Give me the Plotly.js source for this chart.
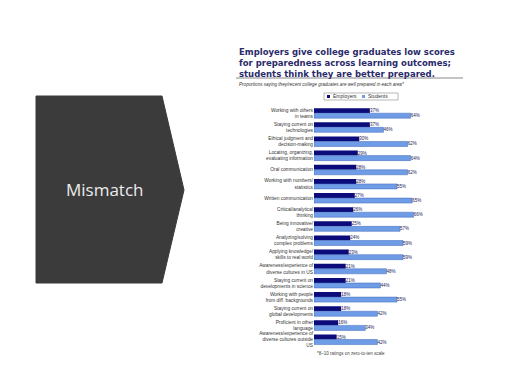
<!DOCTYPE html>
<html>
<head>
<meta charset="utf-8">
<script src="https://cdn.plot.ly/plotly-3.0.1.min.js"></script>
<style>html,body{margin:0;padding:0;background:#fff;}#chart{width:513px;height:389px;}</style>
</head>
<body>
<div id="chart"></div>
<script>
var categories = [
  "Working with others<br>in teams",
  "Staying current on<br>technologies",
  "Ethical judgment and<br>decision-making",
  "Locating, organizing,<br>evaluating information",
  "Oral communication",
  "Working with numbers/<br>statistics",
  "Written communication",
  "Critical/analytical<br>thinking",
  "Being innovative/<br>creative",
  "Analyzing/solving<br>complex problems",
  "Applying knowledge/<br>skills to real world",
  "Awareness/experience of<br>diverse cultures in US",
  "Staying current on<br>developments in science",
  "Working with people<br>from diff. backgrounds",
  "Staying current on<br>global developments",
  "Proficient in other<br>language",
  "Awareness/experience of<br>diverse cultures outside<br>US"
];
var employers = [37, 37, 30, 29, 28, 28, 27, 26, 25, 24, 23, 21, 21, 18, 18, 16, 15];
var students  = [64, 46, 62, 64, 62, 55, 65, 66, 57, 59, 59, 48, 44, 55, 42, 34, 42];
var seriesNames = ["Employers", "Students"];
var seriesColors = ["#0b0b7a", "#6f9ce6"];

var W = 513, H = 389;
function px(x){ return x / W; }
function py(y){ return 1 - y / H; }

var traces = [
  {
    type: "bar", orientation: "h", name: seriesNames[0],
    y: categories, x: employers,
    marker: {color: seriesColors[0]},
    text: employers.map(function(v){return v + "%";}),
    textposition: "outside", cliponaxis: false,
    textfont: {size: 4.5, color: "#1a1a5a", family: "Arial"}
  },
  {
    type: "bar", orientation: "h", name: seriesNames[1],
    y: categories, x: students,
    marker: {color: seriesColors[1], line: {color: "#4169b8", width: 0.5}},
    text: students.map(function(v){return v + "%";}),
    textposition: "outside", cliponaxis: false,
    textfont: {size: 4.5, color: "#1a1a5a", family: "Arial"}
  }
];

var chevron = "M" + px(36) + "," + py(96) + " L" + px(162) + "," + py(96) +
  " L" + px(184) + "," + py(190) + " L" + px(162) + "," + py(283) +
  " L" + px(36) + "," + py(283) + " Z";

function rect(x0, y0, x1, y1, fill, line){
  return {type: "rect", xref: "paper", yref: "paper",
    x0: px(x0), x1: px(x1), y0: py(y1), y1: py(y0),
    fillcolor: fill, line: line || {width: 0}};
}

var layout = {
  width: W, height: H,
  margin: {l: 0, r: 0, t: 0, b: 0},
  paper_bgcolor: "#ffffff", plot_bgcolor: "rgba(0,0,0,0)",
  barmode: "group", bargap: 0.29, bargroupgap: 0,
  showlegend: false,
  xaxis: {
    domain: [px(314), px(465)], range: [0, 100],
    showgrid: false, zeroline: false, showticklabels: false, showline: false, ticks: ""
  },
  yaxis: {
    domain: [py(346.6), py(106.1)],
    type: "category", categoryorder: "array", categoryarray: categories,
    autorange: "reversed",
    showgrid: false, zeroline: false, showline: false, ticks: "",
    tickfont: {size: 4.8, family: "Arial", color: "#333"}
  },
  shapes: [
    {type: "path", xref: "paper", yref: "paper", path: chevron,
     fillcolor: "#3b3b3b", line: {color: "#3b3b3b", width: 1}},
    {type: "line", xref: "paper", yref: "paper",
     x0: px(236), x1: px(463), y0: py(78), y1: py(78),
     line: {color: "#888", width: 1}},
    rect(324, 93, 398, 100, "#ffffff", {color: "#999", width: 0.7}),
    rect(327, 95, 330, 98, seriesColors[0]),
    rect(362, 95, 365, 98, seriesColors[1])
  ],
  annotations: [
    {xref: "paper", yref: "paper", x: px(105), y: py(190), xanchor: "center", yanchor: "middle",
     text: "Mismatch", showarrow: false,
     font: {size: 17, family: "Open Sans", color: "#ececec"}},
    {xref: "paper", yref: "paper", x: px(237), y: py(45), xanchor: "left", yanchor: "top",
     align: "left", showarrow: false,
     text: "<b>Employers give college graduates low scores<br>for preparedness across learning outcomes;<br>students think they are better prepared.</b>",
     font: {size: 8.5, family: "DejaVu Sans", color: "#2a2a6a"}},
    {xref: "paper", yref: "paper", x: px(237), y: py(84), xanchor: "left", yanchor: "middle",
     showarrow: false,
     text: "<i>Proportions saying they/recent college graduates are well prepared in each area*</i>",
     font: {size: 4.6, family: "Arial", color: "#333"}},
    {xref: "paper", yref: "paper", x: px(331), y: py(96.5), xanchor: "left", yanchor: "middle",
     showarrow: false, text: seriesNames[0],
     font: {size: 5, family: "Arial", color: "#333"}},
    {xref: "paper", yref: "paper", x: px(366), y: py(96.5), xanchor: "left", yanchor: "middle",
     showarrow: false, text: seriesNames[1],
     font: {size: 5, family: "Arial", color: "#333"}},
    {xref: "paper", yref: "paper", x: px(315), y: py(353), xanchor: "left", yanchor: "middle",
     showarrow: false,
     text: "*8–10 ratings on zero-to-ten scale",
     font: {size: 4.5, family: "Arial", color: "#444"}}
  ]
};

Plotly.newPlot("chart", traces, layout, {staticPlot: true, displayModeBar: false});
</script>
</body>
</html>
